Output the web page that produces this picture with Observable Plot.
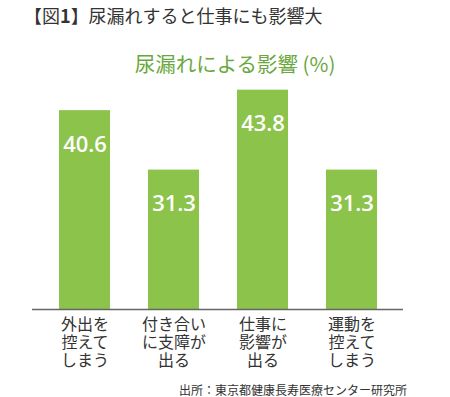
<!DOCTYPE html>
<html><head><meta charset="utf-8">
<script src="https://cdn.jsdelivr.net/npm/d3@7"></script>
<script src="https://cdn.jsdelivr.net/npm/@observablehq/plot@0.6"></script>
<style>
body{margin:0;background:#fff;font-family:"Noto Sans CJK JP",sans-serif;width:450px;height:397px;overflow:hidden}
#title{height:30px;line-height:30px;font-size:18px;color:#333;padding-left:24px;white-space:nowrap}
#title b{font-weight:700}
#sub{margin-top:20px;height:26px;line-height:26px;font-size:20.5px;color:#6aa83e;text-align:center;padding-left:20px;white-space:nowrap}
#cap{height:20px;line-height:20px;font-size:12px;color:#333;text-align:right;padding-right:43px;white-space:nowrap}
#chart svg{display:block}
</style></head>
<body>
<div id="title">【図<b>1</b>】尿漏れすると仕事にも影響大</div>
<div id="sub">尿漏れによる影響 (%)</div>
<div id="chart"></div>
<div id="cap">出所：東京都健康長寿医療センター研究所</div>
<script>
const categories = ["外出を控えてしまう", "付き合いに支障が出る", "仕事に影響が出る", "運動を控えてしまう"];
const tickLabels = ["外出を\n控えて\nしまう", "付き合い\nに支障が\n出る", "仕事に\n影響が\n出る", "運動を\n控えて\nしまう"];
const values = [40.6, 31.3, 43.8, 31.3];
const yDomain = [9.5, 45];

const data = categories.map((c, i) => ({cat: c, value: values[i]}));
const labelOf = new Map(categories.map((c, i) => [c, tickLabels[i]]));

const chart = Plot.plot({
  width: 450, height: 304,
  marginLeft: 32, marginRight: 47, marginTop: 6, marginBottom: 71,
  style: {fontFamily: "'Noto Sans CJK JP', sans-serif", color: "#333", background: "#fff"},
  x: {domain: categories, paddingInner: 0.43, paddingOuter: 0.28, label: null},
  y: {domain: yDomain, clamp: true, axis: null},
  marks: [
    Plot.barY(data, {x: "cat", y: "value", fill: "#8cc34b"}),
    Plot.ruleY([yDomain[0]], {stroke: "#666", strokeWidth: 1.5}),
    Plot.text(data, {x: "cat", y: "value", text: d => d.value.toFixed(1), dy: 34, fill: "#fff",
      fontSize: 22, fontWeight: 600, fontFamily: "'Open Sans', sans-serif"}),
    Plot.axisX({tickSize: 0, tickPadding: 8, fontSize: 16, lineHeight: 1.13, label: null,
      tickFormat: d => labelOf.get(d), fill: "#333"})
  ]
});
document.getElementById("chart").appendChild(chart);
</script>
</body></html>
